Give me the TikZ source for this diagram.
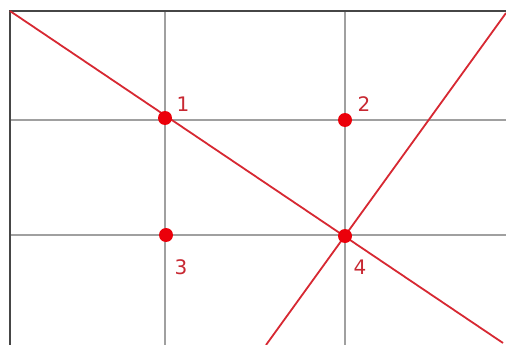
\documentclass[tikz,border=0pt]{standalone}
\usepackage{fontspec}
\setmainfont{DejaVu Sans}
\definecolor{gridgray}{RGB}{160,160,160}
\definecolor{framegray}{RGB}{70,70,70}
\definecolor{linered}{RGB}{215,40,50}
\definecolor{dotred}{RGB}{235,0,10}
\definecolor{labred}{RGB}{200,40,50}
\begin{document}
\begin{tikzpicture}[x=1pt,y=-1pt,
  gridline/.style={draw=gridgray,line width=2.2pt},
  frameline/.style={draw=framegray,line width=2.4pt},
  redline/.style={draw=linered,line width=1.8pt},
  dotnode/.style={circle,fill=dotred,inner sep=0pt,minimum size=14pt},
  lab/.style={text=labred,font=\fontsize{20}{20}\selectfont,inner sep=0pt}]
\useasboundingbox (0,0) rectangle (506,345);
\fill[white] (0,0) rectangle (506,345);
% corner coordinates
\coordinate (tl) at (10,11);
\coordinate (tr) at (506,11);
\coordinate (bl) at (10,345);
\coordinate (br) at (506,345);
\coordinate (v1t) at (165,11); \coordinate (v1b) at (165,345);
\coordinate (v2t) at (345,11); \coordinate (v2b) at (345,345);
\coordinate (h1l) at (10,120); \coordinate (h1r) at (506,120);
\coordinate (h2l) at (10,235); \coordinate (h2r) at (506,235);
% grid
\draw[gridline] (v1t) -- (v1b);
\draw[gridline] (v2t) -- (v2b);
\draw[gridline] (h1l) -- (h1r);
\draw[gridline] (h2l) -- (h2r);
% frame
\draw[frameline] (bl) -- (tl) -- (tr);
% red lines
\coordinate (diagend) at (503,343);
\coordinate (antitop) at (506,13);
\coordinate (antibot) at (266,345);
\draw[redline] (tl) -- (diagend);
\draw[redline] (antibot) -- (antitop);
% points
\node[dotnode] (p1) at (165,118) {};
\node[dotnode] (p2) at (345,120) {};
\node[dotnode] (p3) at (166,235) {};
\node[dotnode] (p4) at (345,236) {};
\node[lab] (l1) at (183,104) {1};
\node[lab] (l2) at (364,104) {2};
\node[lab] (l3) at (181,267) {3};
\node[lab] (l4) at (360,267) {4};
\end{tikzpicture}
\end{document}
